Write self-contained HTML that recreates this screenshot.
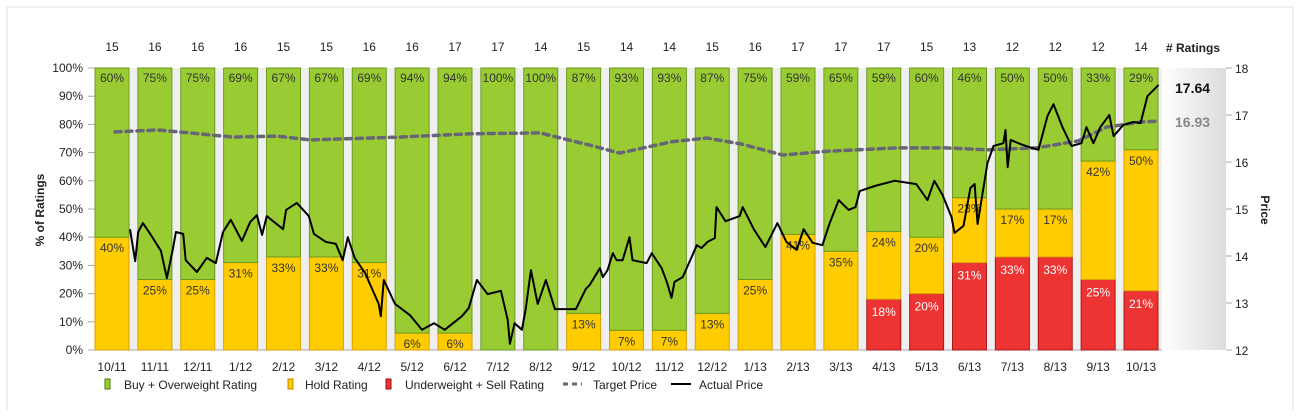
<!DOCTYPE html>
<html><head><meta charset="utf-8"><style>
html,body{margin:0;padding:0;background:#fff;}
svg{display:block;font-family:"Liberation Sans",Arial,sans-serif;}
</style></head><body>
<svg id="c" width="1300" height="420" viewBox="0 0 1300 420">
<defs>
<linearGradient id="rp" x1="0" x2="1" y1="0" y2="0"><stop offset="0" stop-color="#ffffff"/><stop offset="1" stop-color="#dcdcdc"/></linearGradient>
</defs>
<path d="M7,410 L7,7 L1293,7 L1293,410" fill="none" stroke="#e2e2e2" stroke-width="1"/>
<rect x="95" y="68" width="1067" height="282" fill="#efefef"/>
<rect x="1162" y="68" width="64" height="282" fill="url(#rp)"/>
<g id="g"></g>
</svg>
<script>
const months=["10/11","11/11","12/11","1/12","2/12","3/12","4/12","5/12","6/12","7/12","8/12","9/12","10/12","11/12","12/12","1/13","2/13","3/13","4/13","5/13","6/13","7/13","8/13","9/13","10/13"];
const counts=[15,16,16,16,15,15,16,16,17,17,14,15,14,14,15,16,17,17,17,15,13,12,12,12,14];
const buyPct=[60,75,75,69,67,67,69,94,94,100,100,87,93,93,87,75,59,65,59,60,46,50,50,33,29];
const holdPct=[40,25,25,31,33,33,31,6,6,0,0,13,7,7,13,25,41,35,24,20,23,17,17,42,50];
const sellPct=[0,0,0,0,0,0,0,0,0,0,0,0,0,0,0,0,0,0,18,20,31,33,33,25,21];
const leftTicks=[0,10,20,30,40,50,60,70,80,90,100];
const rightTicks=[12,13,14,15,16,17,18];
const priceT=[0.42,0.54,0.61,0.72,0.89,1.14,1.28,1.42,1.49,1.66,1.72,1.98,2.21,2.42,2.59,2.77,3.03,3.22,3.38,3.50,3.61,3.99,4.06,4.31,4.59,4.71,4.99,5.22,5.38,5.50,5.66,5.90,6.22,6.27,6.34,6.60,6.95,7.23,7.51,7.76,8.16,8.32,8.51,8.76,9.07,9.23,9.28,9.39,9.56,9.65,9.77,9.93,10.12,10.33,10.82,11.05,11.14,11.38,11.45,11.56,11.68,11.77,11.91,12.07,12.14,12.47,12.59,12.82,12.94,13.05,13.12,13.31,13.52,13.64,13.75,13.89,14.06,14.10,14.31,14.64,14.71,14.97,15.24,15.52,15.73,15.97,16.13,16.34,16.57,16.74,16.95,17.18,17.34,17.44,17.79,18.25,18.76,19.02,19.18,19.37,19.58,19.65,19.86,20.02,20.12,20.19,20.42,20.56,20.79,20.84,20.89,20.96,21.19,21.45,21.61,21.82,21.96,22.17,22.38,22.61,22.73,22.89,23.05,23.26,23.36,23.59,23.82,23.99,24.15,24.41];
const priceV=[14.57,13.89,14.51,14.70,14.47,14.11,13.53,14.15,14.51,14.47,13.91,13.66,13.96,13.85,14.51,14.77,14.32,14.72,14.87,14.45,14.85,14.57,14.98,15.13,14.85,14.47,14.30,14.26,13.91,14.40,13.96,13.64,12.98,12.72,13.49,12.98,12.74,12.43,12.57,12.43,12.72,12.89,13.49,13.19,13.26,12.64,12.13,12.57,12.43,12.87,13.70,12.98,13.49,12.87,12.87,13.30,13.38,13.74,13.55,13.70,14.06,13.91,13.91,14.40,13.91,13.85,14.06,13.74,13.45,13.11,13.45,13.55,13.98,14.23,14.17,14.30,14.38,15.04,14.74,14.85,15.04,14.57,14.19,14.70,14.30,14.13,14.57,14.28,14.23,14.70,15.19,14.98,15.04,15.38,15.49,15.60,15.53,15.19,15.60,15.30,14.83,14.49,14.64,15.45,15.53,14.68,15.98,16.34,16.40,16.68,15.89,16.47,16.38,16.30,16.26,16.98,17.23,16.74,16.34,16.40,16.74,16.40,16.74,17.00,16.55,16.79,16.85,16.83,17.40,17.64];
const targetT=[0.07,1.07,1.82,2.82,3.85,4.62,6.71,8.34,9.98,11.14,11.84,13.05,13.87,14.69,15.64,16.71,18.32,19.46,20.42,21.56,22.54,23.19,23.99,24.43];
const targetV=[16.64,16.68,16.62,16.53,16.55,16.47,16.53,16.60,16.62,16.36,16.19,16.43,16.51,16.38,16.15,16.23,16.30,16.30,16.26,16.30,16.45,16.74,16.85,16.87];

const NS="http://www.w3.org/2000/svg";
const g=document.getElementById('g');
const L=95,R=1162,T=68,B=350,X0=112,PITCH=42.875,BW=34;
const xs=i=>X0+i*PITCH;
const yp=v=>B-(v/100)*(B-T);
const yr=v=>B-(v-12)/6*(B-T);
function el(tag,a,txt){const e=document.createElementNS(NS,tag);for(const k in a)e.setAttribute(k,a[k]);if(txt!==undefined)e.textContent=txt;g.appendChild(e);return e;}

// left axis
leftTicks.forEach(v=>{
  const t=el('text',{x:83,y:yp(v)+4,'text-anchor':'end','font-size':12,fill:'#222'},v+'%');
  
  
  const l=el('line',{x1:88,x2:95,y1:yp(v),y2:yp(v),stroke:'#aaa'});
  
  
});
rightTicks.forEach(v=>{
  const l=el('line',{x1:1226,x2:1232,y1:yr(v),y2:yr(v),stroke:'#aaa'});
  
  
  const t=el('text',{x:1235,y:yr(v)+5,'font-size':12,fill:'#222'},String(v));
  
  
});
const ax=el('line',{x1:95,x2:95,y1:T,y2:B,stroke:'#aaa'});


const bx=el('line',{x1:88,x2:1162,y1:B,y2:B,stroke:'#aaa'});



// bars
months.forEach((m,i)=>{
  const cx=xs(i),x=cx-BW/2;
  const s=sellPct[i],h=holdPct[i],b=buyPct[i];
  if(s>0){const r=el('rect',{x:x,y:yp(s),width:BW,height:yp(0)-yp(s),fill:'#ee3333',stroke:'#a81818','stroke-width':1});
    
    }
  if(h>0){const r=el('rect',{x:x,y:yp(s+h),width:BW,height:yp(s)-yp(s+h),fill:'#ffcc00',stroke:'#d9a000','stroke-width':1});
    
    }
  const r=el('rect',{x:x,y:T,width:BW,height:yp(s+h)-T,fill:'#99cc33',stroke:'#6b9a22','stroke-width':1});
  
  
  const bl=el('text',{x:cx,y:T+14,'text-anchor':'middle','font-size':12,fill:'#333'},b+'%');
  
  
  if(h>0){const hl=el('text',{x:cx,y:yp(s+h)+15,'text-anchor':'middle','font-size':12,fill:'#333'},h+'%');
    
    }
  if(s>0){const sl=el('text',{x:cx,y:yp(s)+17,'text-anchor':'middle','font-size':12,fill:'#fff'},s+'%');
    
    }
  const cl=el('text',{x:cx,y:51,'text-anchor':'middle','font-size':12,fill:'#222'},String(counts[i]));
  
  
  const ml=el('text',{x:cx,y:371,'text-anchor':'middle','font-size':12,fill:'#222'},m);
  
  
});

// lines
function pts(ts,vs){return ts.map((t,i)=>xs(t).toFixed(1)+','+yr(vs[i]).toFixed(1)).join(' ');}
const tl=el('polyline',{points:pts(targetT,targetV),fill:'none',stroke:'#666677','stroke-width':3.5,'stroke-dasharray':'6,5','stroke-linecap':'round'});


const pl=el('polyline',{points:pts(priceT,priceV),fill:'none',stroke:'#000','stroke-width':2,'stroke-linejoin':'round'});



const l1=el('text',{x:1175,y:93,'font-size':14,'font-weight':'bold',fill:'#111'},priceV[priceV.length-1].toFixed(2));


const l2=el('text',{x:1175,y:127,'font-size':14,'font-weight':'bold',fill:'#888'},"16.93");


const nr=el('text',{x:1166,y:52,'font-size':12,'font-weight':'bold',fill:'#222'},"# Ratings");


const yt=el('text',{x:0,y:0,'font-size':12,'font-weight':'bold',fill:'#222','text-anchor':'middle',transform:'translate(44,210) rotate(-90)'},"% of Ratings");


const yt2=el('text',{x:0,y:0,'font-size':12,'font-weight':'bold',fill:'#222','text-anchor':'middle',transform:'translate(1261,210) rotate(90)'},"Price");



// legend
function sq(x,fill,stroke,name,label,tx){
  const r=el('rect',{x:x,y:379,width:5,height:10,fill:fill,stroke:stroke,'stroke-width':1});
  
  
  const t=el('text',{x:tx,y:389,'font-size':12,fill:'#222'},label);
  
  
}
sq(105,'#99cc33','#4d7a10','legend-buy','Buy + Overweight Rating',124);
sq(288,'#ffcc00','#c08a00','legend-hold','Hold Rating',305);
sq(386,'#ee3333','#991111','legend-sell','Underweight + Sell Rating',405);
const ld=el('line',{x1:563,x2:582,y1:384,y2:384,stroke:'#666677','stroke-width':3,'stroke-dasharray':'5,4'});


const lt=el('text',{x:593,y:389,'font-size':12,fill:'#222'},"Target Price");


const la=el('line',{x1:671,x2:691,y1:384,y2:384,stroke:'#000','stroke-width':2});


const lat=el('text',{x:699,y:389,'font-size':12,fill:'#222'},"Actual Price");


</script>
</body></html>
